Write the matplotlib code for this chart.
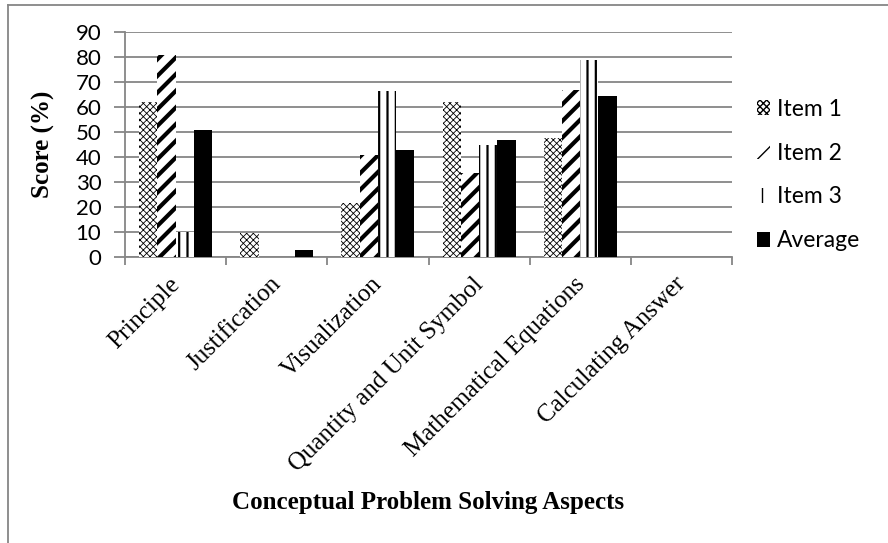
import matplotlib
matplotlib.use("Agg")
import matplotlib.pyplot as plt
import matplotlib.transforms as mtransforms
import numpy as np

# Data
aspects = ["Principle", "Justification", "Visualization",
           "Quantity and Unit Symbol", "Mathematical Equations", "Calculating Answer"]
item1 = [62, 9.5, 21.5, 62, 47.5, 0]
item2 = [81, 0, 41, 33.5, 67, 0]
item3 = [10, 0, 66.5, 45, 79, 0]
average = [51, 3, 43, 47, 64.5, 0]

series = [("Item 1", item1, "xxxxx", 0.6),
          ("Item 2", item2, "//", 3.0),
          ("Item 3", item3, "||", 1.6),
          ("Average", average, "", 1.0)]

grey = "#868686"
W, H = 888, 543
fig = plt.figure(figsize=(W / 100, H / 100), dpi=100)
ax = fig.add_axes([125 / W, 1 - 257 / H, (732 - 125) / W, (257 - 32) / H])

x = np.arange(len(aspects))
bw = 0.18
for i, (name, vals, hatch, hlw) in enumerate(series):
    with plt.rc_context({"hatch.linewidth": hlw}):
        bars = ax.bar(x + (i - 1.5) * bw, vals, bw, label=name,
                      color="black" if hatch == "" else "white",
                      edgecolor="black", linewidth=0, hatch=hatch, zorder=3)
        for b in bars:
            if hasattr(b, "set_hatch_linewidth"):
                b.set_hatch_linewidth(hlw)

ax.set_xlim(-0.5, len(aspects) - 0.5)
ax.set_ylim(0, 90)
ax.set_yticks(range(0, 91, 10))
ax.yaxis.grid(True, color=grey, linewidth=1.3, zorder=0)
ax.set_axisbelow(True)

for s in ["top", "right"]:
    ax.spines[s].set_visible(False)
for s in ["left", "bottom"]:
    ax.spines[s].set_color(grey)
    ax.spines[s].set_linewidth(1.3)

ax.tick_params(axis="y", colors=grey, length=8, width=1.3, labelcolor="black",
               labelsize=16, pad=9)
for lab in ax.get_yticklabels():
    lab.set_fontfamily("Lato")

ax.set_xticks(x)
ax.set_xticklabels(aspects, rotation=45, ha="right", va="top",
                   rotation_mode="anchor", fontfamily="Liberation Serif",
                   fontsize=18)
ax.tick_params(axis="x", which="major", length=0, pad=8)
shift = mtransforms.ScaledTranslation(-7 / 100, -5 / 100, fig.dpi_scale_trans)
for lab in ax.get_xticklabels():
    lab.set_transform(lab.get_transform() + shift)
ax.set_xticks(np.arange(-0.5, len(aspects), 1), minor=True)
ax.tick_params(axis="x", which="minor", length=6, width=1.3, colors=grey)

ax.set_ylabel("Score (%)", fontfamily="Liberation Serif", fontweight="bold",
              fontsize=18)
ax.yaxis.set_label_coords((55 - 125) / (732 - 125), 0.5)
fig.text(428 / W, 1 - 502 / H, "Conceptual Problem Solving Aspects",
         ha="center", va="center", fontfamily="Liberation Serif",
         fontweight="bold", fontsize=18)

leg = ax.legend(loc="center left", bbox_to_anchor=(736 / W, 1 - 175 / H),
                bbox_transform=fig.transFigure, frameon=False,
                prop={"family": "Lato", "size": 16.5}, handlelength=0.6,
                handleheight=0.6, handletextpad=0.3, labelspacing=1.0)

# outer chart border (top and left edges visible)
fig.add_artist(plt.Line2D([8 / W, 1], [1 - 5 / H, 1 - 5 / H], color=grey,
                          linewidth=1.3, transform=fig.transFigure))
fig.add_artist(plt.Line2D([8 / W, 8 / W], [0, 1 - 5 / H], color=grey,
                          linewidth=1.3, transform=fig.transFigure))

fig.savefig("out.png", dpi=100)
